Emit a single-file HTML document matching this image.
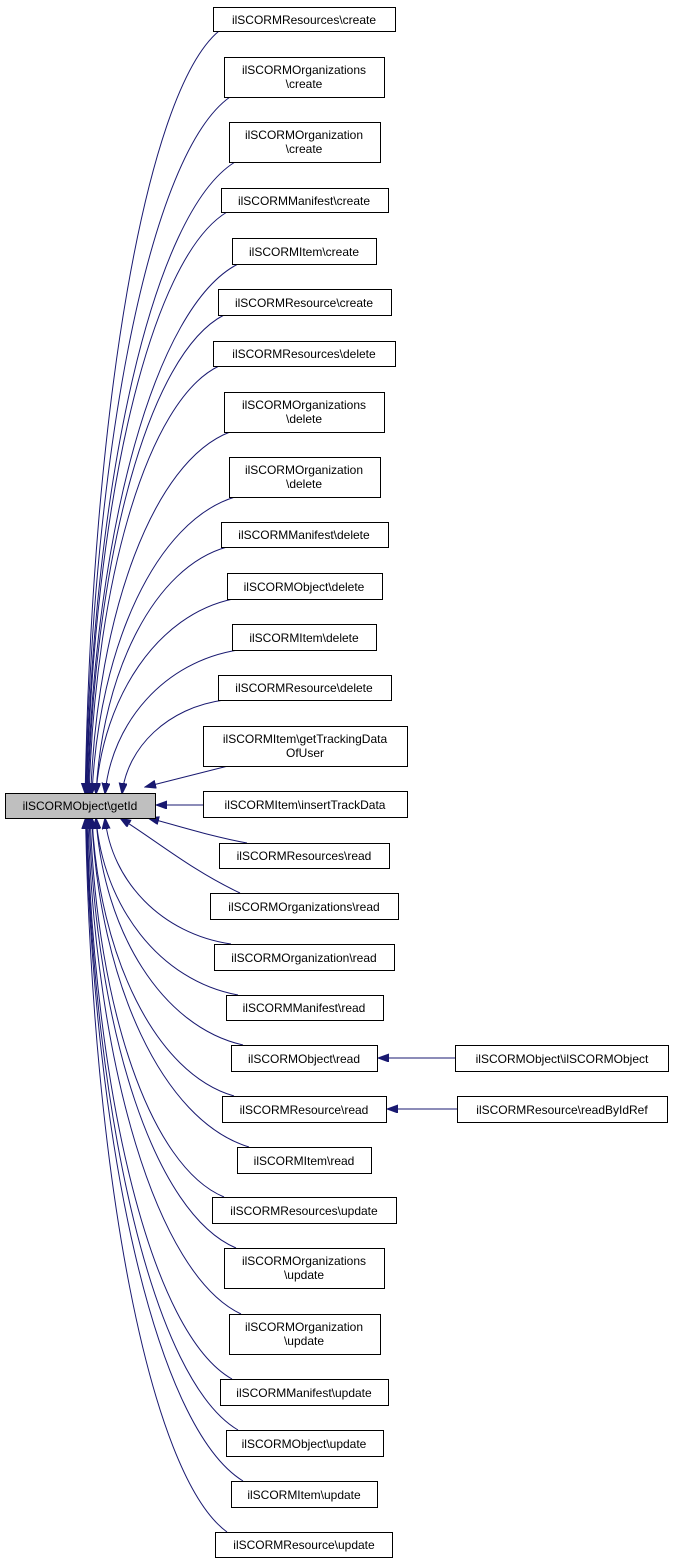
<!DOCTYPE html>
<html><head><meta charset="utf-8"><style>
html,body{margin:0;padding:0;background:#fff}
svg{display:block}
text{font-family:"Liberation Sans",sans-serif;font-size:12px;fill:#000;text-anchor:middle}
</style></head><body>
<svg id="s" width="675" height="1564" viewBox="0 0 675 1564" xmlns="http://www.w3.org/2000/svg">
<defs><marker id="a" markerUnits="userSpaceOnUse" markerWidth="12" markerHeight="9" refX="11" refY="4" orient="auto"><path d="M0,0 L11,4 L0,8 z" fill="#191970" stroke="#191970"/></marker></defs>
<g id="edges" fill="none" stroke="#191970" stroke-width="1"></g>
<g fill="#fff" stroke="#000" stroke-width="1">
<rect x="5.5" y="793.5" width="150" height="25" fill="#bfbfbf"/>
<rect x="213.5" y="7.5" width="182" height="24"/>
<rect x="224.5" y="57.5" width="160" height="40"/>
<rect x="229.5" y="122.5" width="151" height="40"/>
<rect x="221.5" y="188.5" width="167" height="24"/>
<rect x="232.5" y="238.5" width="144" height="26"/>
<rect x="218.5" y="289.5" width="173" height="26"/>
<rect x="213.5" y="341.5" width="182" height="25"/>
<rect x="224.5" y="392.5" width="160" height="40"/>
<rect x="229.5" y="457.5" width="151" height="40"/>
<rect x="221.5" y="522.5" width="167" height="25"/>
<rect x="227.5" y="573.5" width="155" height="26"/>
<rect x="232.5" y="624.5" width="144" height="26"/>
<rect x="218.5" y="675.5" width="173" height="25"/>
<rect x="203.5" y="726.5" width="204" height="40"/>
<rect x="203.5" y="791.5" width="204" height="26"/>
<rect x="219.5" y="843.5" width="170" height="25"/>
<rect x="210.5" y="893.5" width="188" height="26"/>
<rect x="214.5" y="944.5" width="180" height="26"/>
<rect x="226.5" y="995.5" width="157" height="25"/>
<rect x="231.5" y="1045.5" width="146" height="26"/>
<rect x="222.5" y="1096.5" width="164" height="26"/>
<rect x="237.5" y="1147.5" width="134" height="26"/>
<rect x="212.5" y="1197.5" width="184" height="26"/>
<rect x="224.5" y="1248.5" width="160" height="40"/>
<rect x="229.5" y="1314.5" width="151" height="40"/>
<rect x="220.5" y="1379.5" width="168" height="26"/>
<rect x="226.5" y="1430.5" width="157" height="26"/>
<rect x="231.5" y="1481.5" width="146" height="26"/>
<rect x="215.5" y="1532.5" width="177" height="25"/>
<rect x="455.5" y="1045.5" width="213" height="26"/>
<rect x="457.5" y="1096.5" width="210" height="26"/>
</g>
<g>
<text x="80" y="810">ilSCORMObject\getId</text>
<text x="304" y="24">ilSCORMResources\create</text>
<text x="304" y="74">ilSCORMOrganizations</text><text x="304" y="88">\create</text>
<text x="304" y="139">ilSCORMOrganization</text><text x="304" y="153">\create</text>
<text x="304" y="205">ilSCORMManifest\create</text>
<text x="304" y="256">ilSCORMItem\create</text>
<text x="304" y="307">ilSCORMResource\create</text>
<text x="304" y="358">ilSCORMResources\delete</text>
<text x="304" y="409">ilSCORMOrganizations</text><text x="304" y="423">\delete</text>
<text x="304" y="474">ilSCORMOrganization</text><text x="304" y="488">\delete</text>
<text x="304" y="539">ilSCORMManifest\delete</text>
<text x="304" y="591">ilSCORMObject\delete</text>
<text x="304" y="642">ilSCORMItem\delete</text>
<text x="304" y="692">ilSCORMResource\delete</text>
<text x="305" y="743">ilSCORMItem\getTrackingData</text><text x="305" y="757">OfUser</text>
<text x="305" y="809">ilSCORMItem\insertTrackData</text>
<text x="304" y="860">ilSCORMResources\read</text>
<text x="304" y="911">ilSCORMOrganizations\read</text>
<text x="304" y="962">ilSCORMOrganization\read</text>
<text x="304" y="1012">ilSCORMManifest\read</text>
<text x="304" y="1063">ilSCORMObject\read</text>
<text x="304" y="1114">ilSCORMResource\read</text>
<text x="304" y="1165">ilSCORMItem\read</text>
<text x="304" y="1215">ilSCORMResources\update</text>
<text x="304" y="1265">ilSCORMOrganizations</text><text x="304" y="1279">\update</text>
<text x="304" y="1331">ilSCORMOrganization</text><text x="304" y="1345">\update</text>
<text x="304" y="1397">ilSCORMManifest\update</text>
<text x="304" y="1448">ilSCORMObject\update</text>
<text x="304" y="1499">ilSCORMItem\update</text>
<text x="304" y="1549">ilSCORMResource\update</text>
<text x="562" y="1063">ilSCORMObject\ilSCORMObject</text>
<text x="562" y="1114">ilSCORMResource\readByIdRef</text>
</g>
</svg>
<script>
var B=[[213,7,31],[224,57,97],[229,122,162],[221,188,212],[232,238,264],[218,289,315],[213,341,366],[224,392,432],[229,457,497],[221,522,547],[227,573,599],[232,624,650],[218,675,700],
[247,843,868],[240,893,919],[225,944,970],[232,995,1020],[237,1045,1071],[228,1096,1122],[243,1147,1173],[218,1197,1223],[230,1248,1288],[235,1314,1354],[226,1379,1405],[232,1430,1456],[237,1481,1507],[221,1532,1557]];
var g=document.getElementById('edges'),h='';
B.forEach(function(b,i){
 var up=b[2]<790, sx=b[0]+ (i==13||i==14?0:6), sy=up?b[2]:b[1];
 var d=Math.abs(sy-805);
 var ex,ey=up?794:818;
 if(d<60){ex=up?140:148;}
 else if(d<120){ex=up?122:120;}
 else if(d<180){ex=up?105:105;}
 else if(d<260){ex=96;}
 else {ex=80+Math.min(12,4000/d);}
 var L=Math.abs(ey-sy), dir=up?1:-1;
 var c1x=ex+(sx-ex)*0.45, c1y=sy+dir*L*0.08, c2x=ex+(sx-ex)*0.05, c2y=sy+dir*L*0.5;
 if(d<100){c1x=sx-(sx-ex)*0.4;c1y=sy+dir*L*0.3;c2x=ex+(sx-ex)*0.3;c2y=ey-dir*L*0.3;}
 h+='<path d="M'+sx+','+sy+' C'+c1x+','+c1y+' '+c2x+','+c2y+' '+ex+','+ey+'" marker-end="url(#a)"/>';
});
h+='<path d="M228,766 L145,787" marker-end="url(#a)"/>';
h+='<path d="M203,805 L156,805" marker-end="url(#a)"/>';
h+='<path d="M455,1058 L378,1058" marker-end="url(#a)"/>';
h+='<path d="M457,1109 L387,1109" marker-end="url(#a)"/>';
g.innerHTML=h;
</script>
</body></html>
